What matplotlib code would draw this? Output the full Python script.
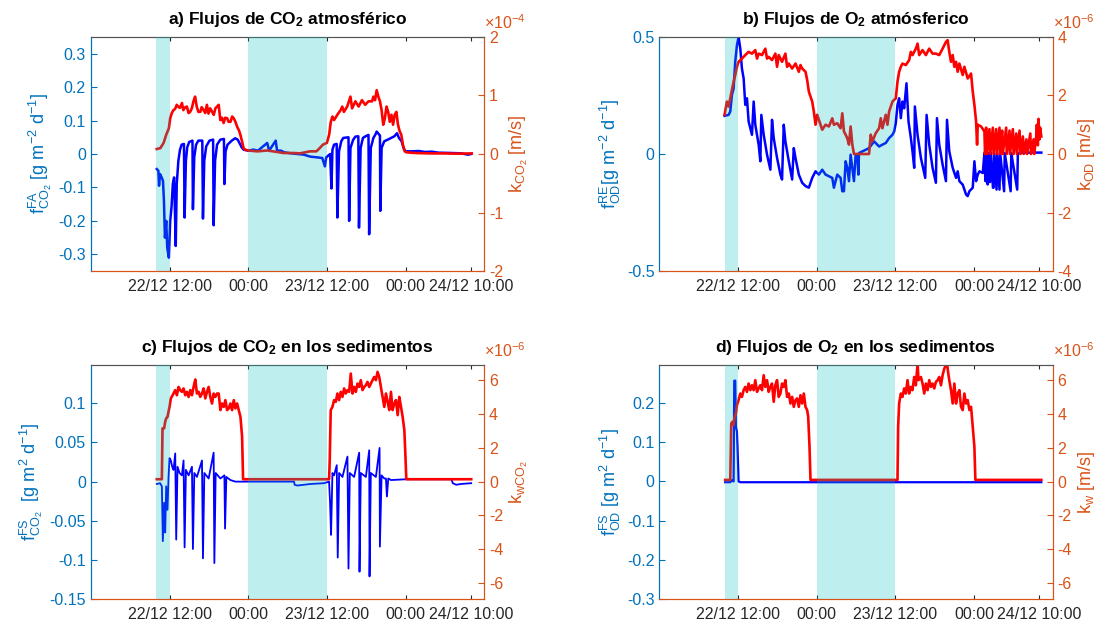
import matplotlib
matplotlib.use("Agg")
import matplotlib.pyplot as plt

plt.rcParams["font.family"] = ["Liberation Sans", "DejaVu Sans"]
plt.rcParams["mathtext.fontset"] = "custom"
plt.rcParams["mathtext.rm"] = "Liberation Sans"
plt.rcParams["mathtext.it"] = "Liberation Sans:italic"
plt.rcParams["mathtext.bf"] = "Liberation Sans:bold"
plt.rcParams["mathtext.default"] = "regular"
plt.rcParams["axes.unicode_minus"] = False

# hours since 22/12 00:00
x_ticks = [12, 24, 36, 48, 58]
x_labels = ["22/12 12:00", "00:00", "23/12 12:00", "00:00", "24/12 10:00"]
shade_spans = [(10.0, 12.0), (24.0, 36.0)]

# a) atmospheric CO2: flux [g m-2 d-1] and k [x1e-4 m/s]
a_flux = [(10.06, -0.045), (10.3, -0.05), (10.4, -0.095), (10.55, -0.06), (10.8, -0.07),
          (11.0, -0.08), (11.15, -0.14), (11.3, -0.25), (11.5, -0.2), (11.65, -0.28),
          (11.9, -0.31), (12.1, -0.2), (12.3, -0.16), (12.5, -0.09), (12.7, -0.07),
          (12.95, -0.275), (13.1, -0.09), (13.35, -0.02), (13.6, 0.013), (13.85, 0.028),
          (14.2, 0.03), (14.3, -0.19), (14.5, -0.02), (14.7, 0.02), (15.0, 0.036),
          (15.5, 0.04), (15.57, -0.165), (15.77, -0.01), (16.05, 0.028), (16.4, 0.04),
          (17.0, 0.04), (17.1, -0.193), (17.3, -0.02), (17.6, 0.023), (18.1, 0.04),
          (18.65, 0.043), (18.73, -0.213), (18.95, -0.02), (19.25, 0.028), (19.75, 0.043),
          (20.3, 0.045), (20.37, -0.09), (20.55, 0.008), (20.85, 0.028), (21.5, 0.04),
          (22.0, 0.047), (22.4, 0.043), (22.8, 0.028), (23.0, 0.02), (23.3, 0.013),
          (24.0, 0.01), (24.8, 0.013), (25.5, 0.01), (26.1, 0.02), (26.9, 0.033),
          (27.2, 0.01), (28.2, 0.04), (28.4, 0.01), (29.0, 0.01), (29.5, 0.005),
          (30.5, 0.002), (31.5, 0.0), (32.5, -0.002), (33.5, -0.008), (34.5, -0.01),
          (35.3, -0.012), (35.7, -0.037), (35.9, -0.01), (36.2, -0.005), (36.5, 0.0),
          (36.7, -0.103), (36.85, 0.013), (37.1, 0.028), (37.5, 0.03), (37.6, -0.19),
          (37.85, 0.008), (38.2, 0.038), (38.5, 0.048), (39.3, 0.05), (39.4, -0.2),
          (39.6, 0.018), (40.0, 0.042), (40.35, 0.052), (40.8, 0.053), (40.9, -0.22),
          (41.15, 0.018), (41.5, 0.048), (41.9, 0.053), (42.35, 0.057), (42.45, -0.24),
          (42.7, 0.018), (43.1, 0.048), (43.4, 0.058), (43.6, 0.067), (44.1, 0.055),
          (44.15, -0.17), (44.35, 0.018), (44.75, 0.038), (45.3, 0.043), (45.8, 0.048),
          (46.3, 0.053), (46.7, 0.062), (47.0, 0.048), (47.4, 0.038), (47.7, 0.018),
          (48.0, 0.008), (49.0, 0.008), (50.0, 0.009), (51.0, 0.006), (52.0, 0.007),
          (53.0, 0.004), (55.0, 0.003), (56.5, 0.002), (57.5, -0.002), (58.0, 0.0)]
a_k = [(10.06, 0.085), (10.6, 0.1), (11.1, 0.19), (11.5, 0.33), (11.9, 0.44), (12.1, 0.61),
       (12.35, 0.7), (12.6, 0.75), (12.85, 0.77), (13.1, 0.84), (13.4, 0.8), (13.6, 0.79),
       (13.9, 0.87), (14.1, 0.75), (14.4, 0.8), (14.65, 0.81), (14.9, 0.7), (15.15, 0.72),
       (15.4, 0.78), (15.65, 0.9), (15.9, 0.98), (16.15, 0.81), (16.4, 0.72), (16.7, 0.72),
       (16.9, 0.8), (17.2, 0.75), (17.45, 0.7), (17.7, 0.84), (17.95, 0.69), (18.2, 0.78),
       (18.5, 0.72), (18.75, 0.67), (19.0, 0.78), (19.25, 0.81), (19.5, 0.84), (19.75, 0.58),
       (20.0, 0.62), (20.25, 0.53), (20.5, 0.62), (20.8, 0.61), (21.0, 0.55), (21.3, 0.55),
       (21.55, 0.64), (21.8, 0.61), (22.05, 0.55), (22.3, 0.47), (22.6, 0.4), (22.8, 0.33),
       (23.05, 0.22), (23.3, 0.1), (23.6, 0.07), (24.0, 0.06), (25.4, 0.045), (26.9, 0.06),
       (28.4, 0.035), (29.4, 0.017), (30.9, 0.017), (31.9, 0.011), (33.4, 0.045),
       (34.4, 0.045), (34.9, 0.1), (35.4, 0.16), (36.0, 0.19), (36.35, 0.33), (36.6, 0.55),
       (36.85, 0.64), (37.1, 0.58), (37.6, 0.67), (38.1, 0.75), (38.35, 0.81), (38.6, 0.72),
       (39.1, 0.81), (39.6, 0.98), (39.85, 0.78), (40.35, 0.9), (40.85, 0.81), (41.35, 0.92),
       (41.85, 0.84), (42.35, 0.9), (42.9, 0.9), (43.1, 0.98), (43.35, 0.92), (43.6, 1.09),
       (43.85, 0.98), (44.1, 0.9), (44.35, 0.75), (44.6, 0.5), (44.85, 0.61), (45.1, 0.81),
       (45.35, 0.72), (45.6, 0.55), (45.85, 0.67), (46.1, 0.5), (46.35, 0.67), (46.6, 0.72),
       (46.85, 0.5), (47.1, 0.39), (47.35, 0.33), (47.6, 0.16), (47.85, 0.05), (48.1, 0.03),
       (49.0, 0.02), (50.0, 0.015), (52.0, 0.01), (54.0, 0.01), (56.0, 0.005), (58.1, 0.01)]

# b) atmospheric O2: flux and k [x1e-6 m/s]
b_flux = [(9.96, 0.163), (10.57, 0.167), (10.83, 0.181), (11.08, 0.252), (11.34, 0.28),
          (11.59, 0.394), (11.85, 0.465), (12.1, 0.5), (12.36, 0.45), (12.61, 0.365),
          (12.87, 0.323), (13.12, 0.21), (13.38, 0.238), (13.63, 0.139), (14.14, 0.082),
          (14.4, 0.224), (14.65, 0.125), (15.16, 0.04), (15.42, -0.031), (15.57, 0.167),
          (15.93, 0.082), (16.44, -0.003), (16.95, -0.067), (17.2, 0.146), (17.46, 0.068),
          (17.97, -0.017), (18.48, -0.088), (18.73, -0.109), (18.99, 0.125), (19.24, 0.054),
          (19.76, -0.031), (20.27, -0.109), (20.52, 0.025), (20.78, -0.017), (21.29, -0.088),
          (21.8, -0.123), (22.31, -0.137), (22.82, -0.144), (23.33, -0.102), (23.58, -0.088),
          (23.84, -0.074), (24.35, -0.088), (24.86, -0.067), (25.37, -0.088), (25.88, -0.095),
          (26.39, -0.102), (26.64, -0.144), (26.9, -0.116), (27.15, -0.088), (27.66, -0.102),
          (27.92, -0.159), (28.17, -0.159), (28.43, -0.031), (28.68, -0.059), (28.94, -0.116),
          (29.19, -0.003), (29.45, -0.059), (29.7, -0.116), (29.96, -0.003), (30.21, -0.003),
          (30.37, -0.088), (30.47, 0.004), (32.0, 0.025), (32.77, 0.054), (33.53, 0.032),
          (34.04, 0.04), (34.55, 0.047), (35.06, 0.068), (35.57, 0.082), (35.83, 0.096),
          (36.08, 0.132), (36.34, 0.21), (36.59, 0.238), (36.85, 0.153), (37.1, 0.224),
          (37.36, 0.195), (37.71, 0.302), (38.02, 0.139), (38.38, 0.068), (38.63, 0.011),
          (38.89, -0.059), (38.99, 0.203), (39.4, 0.082), (39.91, -0.017), (40.57, -0.102),
          (40.78, 0.167), (41.18, 0.04), (41.69, -0.059), (42.2, -0.123), (42.36, 0.153),
          (42.71, 0.04), (43.22, -0.045), (43.73, -0.116), (43.89, 0.146), (44.24, 0.011),
          (44.76, -0.059), (45.27, -0.102), (45.52, -0.074), (45.78, -0.116), (46.29, -0.131),
          (46.8, -0.173), (47.05, -0.18), (47.31, -0.159), (47.82, -0.144), (48.07, -0.031),
          (48.33, -0.116), (48.58, -0.088), (48.84, -0.074), (49.35, -0.081), (49.6, 0.004),
          (49.75, -0.116), (49.9, 0.004), (50.1, -0.13), (50.25, 0.004), (50.45, -0.12),
          (50.6, 0.004), (50.9, -0.144), (51.0, -0.144), (51.1, 0.004), (51.45, -0.152),
          (51.55, 0.004), (51.9, -0.152), (52.0, 0.004), (52.6, -0.159), (52.7, 0.004),
          (53.6, -0.159), (53.7, 0.004), (54.6, -0.152), (54.7, 0.004), (55.47, 0.006),
          (58.28, 0.006)]
b_k = [(9.96, 1.34), (10.32, 1.79), (10.57, 1.62), (10.83, 1.9), (11.08, 2.19), (11.34, 2.47),
       (11.59, 2.7), (11.85, 2.98), (12.1, 3.15), (12.61, 3.26), (13.12, 3.38), (13.63, 3.49),
       (14.14, 3.43), (14.65, 3.55), (14.91, 3.26), (15.16, 3.43), (15.67, 3.38), (16.18, 3.6),
       (16.44, 3.26), (16.69, 3.32), (17.2, 3.21), (17.71, 3.43), (17.97, 2.98), (18.22, 3.38),
       (18.73, 3.15), (19.24, 3.43), (19.5, 2.98), (19.76, 3.09), (20.27, 2.92), (20.78, 3.09),
       (21.29, 2.81), (21.54, 3.04), (21.8, 2.92), (22.31, 2.81), (22.56, 2.53), (22.82, 2.13),
       (23.33, 1.79), (23.58, 1.45), (23.84, 1.0), (24.09, 1.34), (24.6, 1.0), (24.86, 0.83),
       (25.37, 1.0), (25.88, 0.94), (26.39, 1.22), (26.64, 1.0), (27.15, 1.05), (27.66, 0.88),
       (27.92, 1.39), (28.17, 0.77), (28.43, 0.66), (28.68, 0.54), (28.94, 0.32), (29.19, 0.94),
       (29.45, 0.32), (29.7, 0.0), (32.0, 0.0), (32.26, 0.66), (32.51, 0.43), (33.02, 0.71),
       (33.53, 0.88), (33.79, 1.22), (34.04, 0.88), (34.55, 1.34), (34.81, 1.0), (35.06, 1.45),
       (35.57, 1.79), (35.83, 1.85), (36.08, 1.9), (36.34, 2.47), (36.59, 2.81), (36.85, 2.98),
       (37.1, 3.09), (37.61, 3.04), (38.12, 3.21), (38.38, 3.49), (38.63, 3.38), (39.14, 3.6),
       (39.4, 3.77), (39.65, 3.38), (40.16, 3.55), (40.67, 3.38), (41.18, 3.6), (41.69, 3.43),
       (42.2, 3.43), (42.71, 3.38), (43.22, 3.6), (43.73, 3.83), (43.99, 3.89), (44.24, 3.49),
       (44.5, 3.15), (44.76, 3.38), (45.01, 2.98), (45.27, 3.15), (45.52, 2.81), (45.78, 3.09),
       (46.29, 2.7), (46.54, 2.98), (47.05, 2.58), (47.56, 2.75), (47.82, 2.13), (48.07, 1.68),
       (48.33, 1.11), (48.48, 0.32), (48.58, 1.0), (49.09, 0.94), (49.6, 0.77), (49.7, 0.0),
       (49.86, 0.9), (50.0, 0.0), (50.37, 0.85), (50.5, 0.0), (50.88, 0.9), (51.0, 0.0),
       (51.39, 0.85), (51.5, 0.0), (51.9, 0.9), (52.0, 0.0), (52.3, 0.8), (52.4, 0.0),
       (52.92, 0.9), (53.0, 0.0), (53.43, 0.8), (53.5, 0.0), (53.94, 0.85), (54.05, 0.0),
       (54.45, 0.7), (54.55, 0.0), (54.96, 0.8), (55.1, 0.0), (55.47, 0.6), (55.6, 0.0),
       (56.0, 0.5), (56.1, 0.0), (56.6, 0.7), (56.7, 0.0), (57.1, 0.5), (57.2, 0.0),
       (57.5, 0.6), (57.6, 1.0), (57.75, 0.3), (57.85, 1.2), (58.0, 0.5), (58.1, 0.9),
       (58.28, 0.6)]

# c) sediment CO2: flux and k_w [x1e-6 m/s]
c_flux = [(10.06, -0.003), (10.57, -0.002), (10.83, -0.006), (10.98, -0.076), (11.18, -0.027),
          (11.34, -0.065), (11.49, -0.006), (11.69, -0.036), (11.85, 0.006), (12.0, 0.03),
          (12.2, 0.027), (12.41, 0.019), (12.61, 0.015), (12.87, 0.036), (13.02, -0.074),
          (13.22, 0.019), (13.53, 0.011), (13.89, 0.008), (14.14, 0.027), (14.3, -0.084),
          (14.5, 0.015), (14.91, 0.008), (15.42, 0.019), (15.57, -0.086), (15.78, 0.011),
          (16.18, 0.006), (16.95, 0.027), (17.1, -0.098), (17.31, 0.011), (17.97, 0.004),
          (18.73, 0.037), (18.84, -0.104), (19.04, 0.011), (19.76, 0.004), (20.37, 0.008),
          (20.47, -0.06), (20.67, 0.006), (21.29, 0.002), (22.05, 0.0), (23.33, 0.0),
          (31.0, 0.0), (31.08, -0.004), (31.49, -0.005), (32.51, -0.004), (33.53, -0.003),
          (35.57, -0.002), (36.34, 0.0), (36.49, -0.027), (36.64, -0.068), (36.85, 0.011),
          (37.1, 0.008), (37.51, 0.021), (37.66, -0.097), (37.87, 0.011), (38.38, 0.006),
          (39.14, 0.032), (39.3, -0.111), (39.5, 0.011), (40.16, 0.006), (40.93, 0.037),
          (40.98, -0.115), (41.18, 0.011), (41.95, 0.006), (42.46, 0.04), (42.51, -0.121),
          (42.71, 0.011), (43.48, 0.006), (44.04, 0.043), (44.09, -0.083), (44.35, 0.008),
          (44.76, 0.004), (45.01, 0.004), (45.16, -0.019), (45.37, 0.004), (45.78, 0.002),
          (48.0, 0.003), (55.0, 0.003), (55.21, -0.002), (55.72, -0.004), (56.49, -0.003),
          (58.02, -0.002)]
c_k = [(10.06, 0.14), (10.83, 0.14), (10.93, 3.15), (11.18, 3.15), (11.34, 3.54), (11.49, 3.74),
       (11.69, 3.83), (11.9, 4.23), (12.0, 4.42), (12.2, 4.92), (12.61, 5.21), (12.87, 5.41),
       (13.12, 5.11), (13.38, 5.6), (13.63, 5.41), (13.89, 5.31), (14.14, 5.51), (14.4, 5.11),
       (14.65, 5.31), (14.91, 5.01), (15.16, 5.41), (15.42, 5.11), (15.67, 5.6), (15.93, 6.04),
       (16.18, 5.21), (16.44, 5.31), (16.69, 5.01), (16.95, 5.21), (17.2, 5.51), (17.46, 4.92),
       (17.71, 5.31), (17.97, 5.6), (18.22, 5.01), (18.48, 4.62), (18.73, 5.21), (18.99, 5.01),
       (19.24, 5.21), (19.5, 5.21), (19.76, 4.23), (20.01, 4.62), (20.27, 4.42), (20.52, 4.82),
       (20.78, 4.23), (21.03, 4.33), (21.29, 4.62), (21.54, 4.23), (21.8, 4.82), (22.05, 4.33),
       (22.31, 4.62), (22.56, 4.23), (22.82, 3.83), (23.07, 2.65), (23.22, 0.14), (36.34, 0.14),
       (36.44, 1.28), (36.59, 4.23), (36.85, 4.42), (37.1, 4.82), (37.36, 4.72), (37.61, 5.21),
       (37.87, 4.82), (38.12, 5.31), (38.38, 5.01), (38.63, 5.51), (38.89, 5.21), (39.14, 5.41),
       (39.4, 5.31), (39.65, 6.39), (39.91, 5.21), (40.16, 5.6), (40.42, 5.31), (40.67, 5.8),
       (40.93, 5.6), (41.18, 6.0), (41.44, 5.41), (41.69, 5.6), (41.95, 5.7), (42.2, 5.9),
       (42.46, 5.6), (42.71, 5.8), (42.97, 6.0), (43.22, 6.19), (43.48, 6.0), (43.73, 6.49),
       (43.99, 6.19), (44.24, 5.6), (44.5, 5.01), (44.76, 4.42), (45.01, 5.21), (45.27, 4.72),
       (45.52, 4.23), (45.78, 5.31), (46.03, 4.23), (46.29, 4.62), (46.54, 4.82), (46.8, 3.93),
       (47.05, 5.01), (47.31, 4.42), (47.56, 3.83), (47.82, 3.05), (47.97, 1.67), (48.12, 0.14),
       (58.02, 0.14)]

# d) sediment O2: flux and k_w [x1e-6 m/s]
d_flux = [(10.06, -0.002), (10.83, -0.002), (11.08, 0.003), (11.34, 0.0), (11.44, 0.257),
          (11.59, 0.257), (11.69, 0.139), (11.85, 0.127), (11.95, 0.08), (12.1, 0.0),
          (12.36, -0.002), (58.28, -0.002)]
d_k = [(10.06, 0.1), (10.83, 0.1), (10.98, 3.44), (11.18, 3.54), (11.34, 3.34), (11.49, 3.83),
       (11.69, 4.03), (11.85, 4.52), (12.1, 4.82), (12.36, 5.21), (12.61, 5.01), (12.87, 5.41),
       (13.12, 5.6), (13.38, 5.31), (13.63, 5.8), (13.89, 5.41), (14.14, 5.7), (14.4, 5.41),
       (14.65, 6.0), (14.91, 5.31), (15.16, 5.51), (15.42, 5.7), (15.67, 5.41), (15.93, 6.29),
       (16.18, 5.6), (16.44, 6.0), (16.69, 5.31), (16.95, 5.6), (17.2, 5.8), (17.46, 4.72),
       (17.71, 5.7), (17.97, 6.0), (18.22, 5.01), (18.48, 5.21), (18.73, 5.8), (18.99, 5.6),
       (19.24, 6.0), (19.5, 5.01), (19.76, 5.21), (20.01, 4.62), (20.27, 5.01), (20.52, 4.42),
       (20.78, 4.82), (21.03, 4.92), (21.29, 4.42), (21.54, 5.11), (21.8, 4.62), (22.05, 5.21),
       (22.31, 4.42), (22.56, 4.23), (22.72, 3.83), (22.92, 2.06), (23.07, 0.1), (36.34, 0.1),
       (36.44, 3.24), (36.59, 4.62), (36.85, 5.21), (37.1, 5.01), (37.36, 5.51), (37.61, 5.21),
       (37.87, 6.0), (38.12, 5.21), (38.38, 5.6), (38.63, 5.41), (38.89, 6.19), (39.14, 5.7),
       (39.4, 6.98), (39.55, 6.0), (39.91, 6.19), (40.16, 5.8), (40.42, 5.21), (40.67, 5.8),
       (40.93, 5.41), (41.18, 6.0), (41.44, 5.6), (41.69, 5.8), (41.95, 5.51), (42.2, 5.9),
       (42.46, 6.0), (42.71, 6.19), (42.97, 5.7), (43.22, 6.29), (43.48, 6.69), (43.73, 6.88),
       (43.89, 6.98), (44.09, 6.39), (44.24, 6.0), (44.5, 5.41), (44.76, 4.62), (45.01, 5.8),
       (45.27, 4.62), (45.52, 5.21), (45.78, 5.41), (46.03, 4.42), (46.29, 4.23), (46.54, 5.21),
       (46.8, 4.62), (47.05, 4.82), (47.31, 4.23), (47.56, 4.42), (47.82, 3.24), (48.07, 2.06),
       (48.22, 0.1), (58.28, 0.1)]

blue = "#0072BD"
orange = "#D95319"
dark = "#262626"

panels = [
    dict(pos=[0.082, 0.567, 0.355, 0.374], flux=a_flux, k=a_k,
         title=r"a) Flujos de CO$_\mathbf{2}$ atmosférico",
         ylab=r"$f^{FA}_{CO_2}$ [g m$^{-2}$ d$^{-1}$]", rlab=r"k$_{CO_2}$ [m/s]",
         ylim=(-0.35, 0.35), yt=[-0.3, -0.2, -0.1, 0, 0.1, 0.2, 0.3],
         rlim=(-2, 2), rt=[-2, -1, 0, 1, 2], exp="-4", lw_b=1.8),
    dict(pos=[0.595, 0.567, 0.355, 0.374], flux=b_flux, k=b_k,
         title=r"b) Flujos de O$_\mathbf{2}$ atmósferico",
         ylab=r"$f^{RE}_{OD}$[g m$^{-2}$ d$^{-1}$]", rlab=r"k$_{OD}$ [m/s]",
         ylim=(-0.5, 0.5), yt=[-0.5, 0, 0.5],
         rlim=(-4, 4), rt=[-4, -2, 0, 2, 4], exp="-6", lw_b=1.8),
    dict(pos=[0.082, 0.043, 0.355, 0.374], flux=c_flux, k=c_k,
         title=r"c) Flujos de CO$_\mathbf{2}$ en los sedimentos",
         ylab=r"$f^{FS}_{CO_2}$  [g m$^{2}$ d$^{-1}$]", rlab=r"k$_{wCO_2}$",
         ylim=(-0.15, 0.149), yt=[-0.15, -0.1, -0.05, 0, 0.05, 0.1],
         rlim=(-6.95, 6.9), rt=[-6, -4, -2, 0, 2, 4, 6], exp="-6", lw_b=1.3),
    dict(pos=[0.595, 0.043, 0.355, 0.374], flux=d_flux, k=d_k,
         title=r"d) Flujos de O$_\mathbf{2}$ en los sedimentos",
         ylab=r"$f^{FS}_{OD}$ [g m$^{2}$ d$^{-1}$]", rlab=r"k$_w$ [m/s]",
         ylim=(-0.3, 0.297), yt=[-0.3, -0.2, -0.1, 0, 0.1, 0.2],
         rlim=(-6.95, 6.9), rt=[-6, -4, -2, 0, 2, 4, 6], exp="-6", lw_b=1.6),
]

fig = plt.figure(figsize=(11.08, 6.26), dpi=100)

for p in panels:
    ax = fig.add_axes(p["pos"])
    ax2 = ax.twinx()

    fh, fv = zip(*p["flux"])
    kh, kv = zip(*p["k"])
    ax.plot(fh, fv, color="blue", lw=p["lw_b"], solid_joinstyle="round")
    ax2.plot(kh, kv, color="red", lw=1.9, solid_joinstyle="round", zorder=2)
    for s0, s1 in shade_spans:
        ax2.axvspan(s0, s1, facecolor=(0, 0.74, 0.74), alpha=0.25, lw=0, zorder=5)

    ax.set_xlim(0, 60)
    ax.set_xticks(x_ticks)
    ax.set_xticklabels(x_labels)
    ax.set_ylim(*p["ylim"])
    ax.set_yticks(p["yt"])
    ax.set_yticklabels([f"{t:g}" for t in p["yt"]])
    ax2.set_ylim(*p["rlim"])
    ax2.set_yticks(p["rt"])
    ax2.set_yticklabels([f"{t:g}" for t in p["rt"]])

    ax.tick_params(axis="x", direction="in", top=True, length=3, colors=dark,
                   labelsize=11.5, pad=6)
    ax.tick_params(axis="y", direction="in", length=4, colors=blue, labelsize=11.5)
    ax2.tick_params(axis="y", direction="in", length=4, colors=orange, labelsize=11.5)

    for a in (ax, ax2):
        a.spines["left"].set_color(blue)
        a.spines["right"].set_color(orange)
        a.spines["bottom"].set_color(orange)
        a.spines["top"].set_color("#555555")
        for s in a.spines.values():
            s.set_linewidth(0.8)

    ax.set_ylabel(p["ylab"], color=blue, fontsize=13, labelpad=3)
    ax2.set_ylabel(p["rlab"], color=orange, fontsize=13, labelpad=3)
    ax.set_title(p["title"], fontsize=12.5, fontweight="bold", pad=9)
    ax2.text(1.0, 1.02, r"$\times$10$^{%s}$" % p["exp"], transform=ax2.transAxes,
             ha="left", va="bottom", color=orange, fontsize=11.5)

fig.savefig("out.png", dpi=100)
